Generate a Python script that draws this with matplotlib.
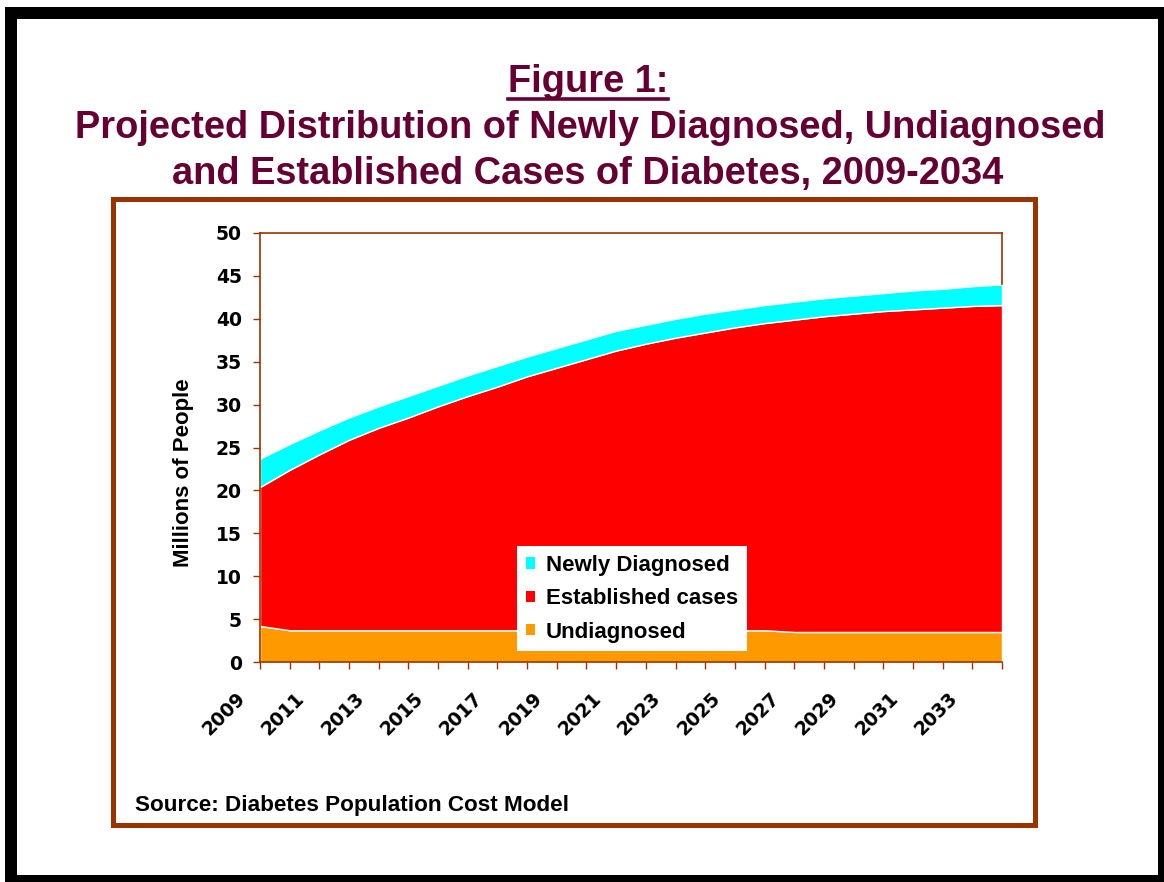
import matplotlib
matplotlib.use("Agg")
import matplotlib.pyplot as plt
from matplotlib.patches import Rectangle, Patch
from matplotlib.lines import Line2D
from matplotlib.transforms import ScaledTranslation

# projected cases, millions of people
years = list(range(2009, 2035))
undiagnosed = [4.2] + [3.7] * 17 + [3.5] * 8
established = [16.2, 18.7, 20.5, 22.2, 23.6, 24.8, 26.1, 27.3, 28.4, 29.6,
               30.6, 31.6, 32.6, 33.4, 34.1, 34.7, 35.3, 35.8, 36.4, 36.8,
               37.1, 37.4, 37.6, 37.8, 38.0, 38.1]
newly_diagnosed = [3.3, 3.0, 2.8, 2.6, 2.5, 2.5, 2.4, 2.4, 2.4, 2.3,
                   2.3, 2.3, 2.3, 2.2, 2.2, 2.2, 2.1, 2.1, 2.1, 2.1,
                   2.1, 2.1, 2.2, 2.2, 2.3, 2.4]
series_names = ["Undiagnosed", "Established cases", "Newly Diagnosed"]
series_colors = ["#FF9900", "#FF0000", "#00FFFF"]

TITLE_COLOR = "#660033"
BROWN = "#993300"
W, H = 1164, 882


def fx(px):
    return px / W


def fy(px):
    # pixel rows counted from the top
    return 1 - px / H


fig = plt.figure(figsize=(W / 100, H / 100), dpi=100)
fig.patch.set_facecolor("white")

# outer black frame and the brown chart frame
fig.add_artist(Rectangle((fx(11), fy(881)), fx(1164 - 11), (881 - 13) / H,
                         transform=fig.transFigure, fill=False,
                         ec="black", lw=8.64))
fig.add_artist(Rectangle((fx(112.5), fy(825)), fx(1034.5 - 112.5), (825 - 198.5) / H,
                         transform=fig.transFigure, fill=False,
                         ec=BROWN, lw=3.6))

# titles
title_font = dict(family="Liberation Sans", fontweight="bold", fontsize=27.4,
                  color=TITLE_COLOR, ha="center", va="baseline")
fig_label = fig.text(fx(588), fy(92), "Figure 1:", **title_font)
fig.text(fx(590), fy(138),
         "Projected Distribution of Newly Diagnosed, Undiagnosed", **title_font)
fig.text(fx(588), fy(184),
         "and Established Cases of Diabetes, 2009-2034", **title_font)

ax = fig.add_axes([fx(260), fy(662), fx(742), 429 / H])
x = list(range(len(years)))
ax.stackplot(x, undiagnosed, established, newly_diagnosed,
             colors=series_colors, labels=series_names,
             edgecolor="white", linewidth=1.0)

ax.set_xlim(0, len(years) - 1)
ax.set_ylim(0, 50)
ax.set_yticks(range(0, 51, 5))
ax.set_xticks(x)
ax.set_xticklabels([str(y) if i % 2 == 0 else "" for i, y in enumerate(years)])

for s in ax.spines.values():
    s.set_color(BROWN)
    s.set_linewidth(1.2)
totals = [u + e + n for u, e, n in zip(undiagnosed, established, newly_diagnosed)]
ax.spines["right"].set_bounds(totals[-1], 50)

ax.tick_params(axis="both", direction="out", length=5, width=1, color=BROWN)
ax.tick_params(axis="y", pad=8)
ax.tick_params(axis="x", pad=14)
for lab in ax.get_yticklabels():
    lab.set_fontfamily("DejaVu Sans")
    lab.set_fontweight("bold")
    lab.set_fontsize(13.5)
shift = ScaledTranslation(-0.11, 0, fig.dpi_scale_trans)
for lab in ax.get_xticklabels():
    lab.set_fontfamily("DejaVu Sans")
    lab.set_fontweight("bold")
    lab.set_fontsize(13.5)
    lab.set_rotation(45)
    lab.set_ha("right")
    lab.set_va("top")
    lab.set_transform(lab.get_transform() + shift)

ax.set_ylabel("Millions of People", family="Liberation Sans",
              fontweight="bold", fontsize=16, labelpad=16)
ax.yaxis.label.set_y((662 - 473) / 429)

handles = [Patch(fc=c, ec="none") for c in series_colors[::-1]]
leg = ax.legend(handles, series_names[::-1], loc="upper left",
                bbox_to_anchor=(0.346, 0.270), frameon=True, fancybox=False,
                facecolor="white", edgecolor="none", framealpha=1,
                prop=dict(family="Liberation Sans", weight="bold", size=16),
                handlelength=0.42, handleheight=0.42, handletextpad=0.5,
                labelspacing=0.55, borderpad=0.4, borderaxespad=0)

fig.text(fx(135), fy(811), "Source: Diabetes Population Cost Model",
         family="Liberation Sans", fontweight="bold", fontsize=16.2,
         va="baseline")

# underline under "Figure 1:"
fig.canvas.draw()
bb = fig_label.get_window_extent(fig.canvas.get_renderer())
fig.add_artist(Line2D([bb.x0 / W, bb.x1 / W], [fy(98.5), fy(98.5)],
                      transform=fig.transFigure, color=TITLE_COLOR, lw=2.6))

fig.savefig("out.png", dpi=100)
